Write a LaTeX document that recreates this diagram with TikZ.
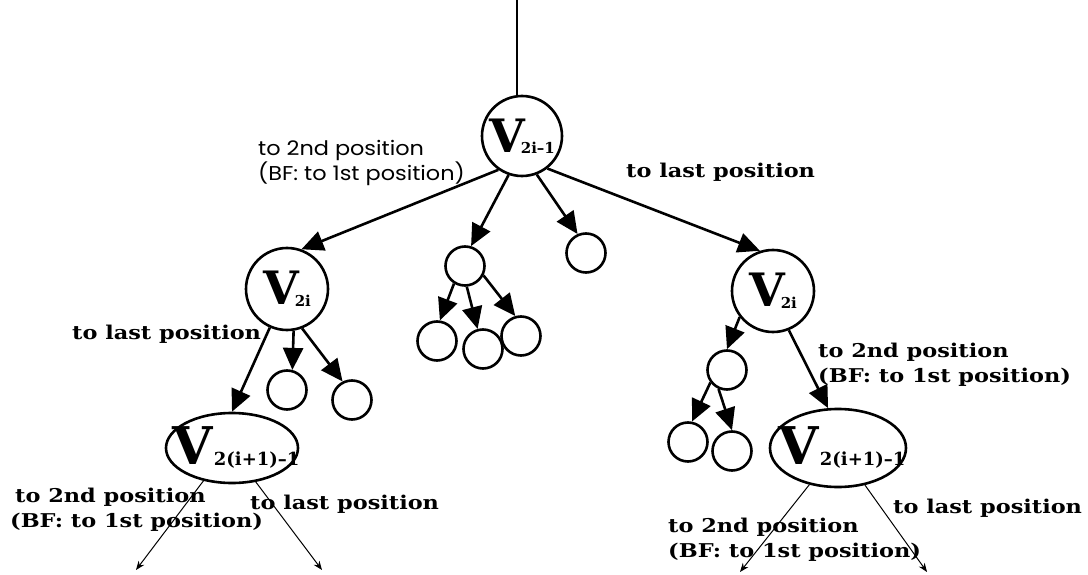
\documentclass[tikz,border=0pt]{standalone}
\usepackage{fontspec}
\setmainfont{DejaVu Serif}
\newfontfamily\lblfont{DejaVu Serif}[FakeStretch=1.18]
\newfontfamily\gothic{Poppins}[FakeStretch=1.12]
\usetikzlibrary{arrows.meta,shapes.geometric}

\begin{document}
\begin{tikzpicture}[x=1pt,y=-1pt,
  every node/.style={inner sep=0pt},
  vert/.style={draw, circle, line width=2.6pt},
  big/.style={vert, minimum size=82pt},
  small/.style={vert, minimum size=39pt},
  oval/.style={draw, ellipse, line width=2.6pt},
  edge/.style={line width=2.6pt, -{Triangle[length=22pt,width=20pt]}},
  thin/.style={line width=1pt, -{Stealth[length=9pt,width=7pt]}},
  lbl/.style={anchor=west, align=left, font=\lblfont\bfseries\fontsize{19}{25}\selectfont},
  glbl/.style={anchor=west, align=left, font=\gothic\fontsize{20}{22}\selectfont},
  vtxt/.style={font=\bfseries},
]
\useasboundingbox (0,0) rectangle (1088,575);

% vertices
\node[big, minimum size=80pt, label={[vtxt]center:{\fontsize{46}{46}\selectfont V}\kern-4pt\raisebox{-1pt}{\fontsize{15}{15}\selectfont 2i--1}}] (r) at (522,136) {};
\node[big, label={[vtxt]center:{\fontsize{46}{46}\selectfont V}\kern-4pt\raisebox{-2pt}{\fontsize{15}{15}\selectfont 2i}}] (l2i) at (287,289) {};
\node[big, label={[vtxt]center:{\fontsize{46}{46}\selectfont V}\kern-4pt\raisebox{-2pt}{\fontsize{15}{15}\selectfont 2i}}] (r2i) at (773,291) {};

\node[small] (m) at (465,266) {};
\node[small] (c1) at (437,341) {};
\node[small] (c2) at (483,349) {};
\node[small] (c3) at (521,336) {};
\node[small] (o) at (586,253) {};

\node[small] (a1) at (287,390) {};
\node[small] (a2) at (352,400) {};

\node[small] (p) at (727,370) {};
\node[small] (q1) at (688,442) {};
\node[small] (q2) at (732,451) {};

\node[oval, minimum width=132pt, minimum height=70pt] (le) at (232,448) {};
\node[vtxt] (letxt) at (236,447) {{\fontsize{52}{52}\selectfont V}\kern1pt\raisebox{-1pt}{\fontsize{18}{18}\selectfont 2(i+1)--1}};
\node[oval, minimum width=136pt, minimum height=78pt] (re) at (838,448) {};
\node[vtxt] (retxt) at (842,447) {{\fontsize{52}{52}\selectfont V}\kern1pt\raisebox{-1pt}{\fontsize{18}{18}\selectfont 2(i+1)--1}};

% incoming line at the top
\coordinate (top) at (517,0);
\draw[line width=2.2pt] (top) -- (top |- r.north);

% thick connectors
\draw[edge] (r.235) -- (l2i.70);
\draw[edge] (r.251) -- (m.73);
\draw[edge] (r.291) -- (o.114);
\draw[edge] (r.308) -- (r2i.108);

\draw[edge] (m.238) -- (c1.82);
\draw[edge] (m.275) -- (c2.105);
\draw[edge] (m.333) -- (c3.106);

\draw[edge] (l2i.246) -- (le.north);
\draw[edge] (l2i.279) -- (a1.75);
\draw[edge] (l2i.291) -- (a2.117);

\draw[edge] (r2i.218) -- (p.90);
\draw[edge] (r2i.292) -- (re.104);
\draw[edge] (p.217) -- (q1.79);
\draw[edge] (p.246) -- (q2.90);

% thin outgoing connectors
\coordinate (lo1) at (136,570);
\coordinate (lo2) at (322,570);
\coordinate (ro1) at (740,572);
\coordinate (ro2) at (927,572);
\draw[thin] (le.229) -- (lo1);
\draw[thin] (le.305) -- (lo2);
\draw[thin] (re.232) -- (ro1);
\draw[thin] (re.306) -- (ro2);

% edge labels
\node[glbl] (t1) at (258,163) {to 2nd position\\(BF: to 1st position)};
\node[lbl] (t2) at (626,172) {to last position};
\node[lbl] (t3) at (72,334) {to last position};
\node[lbl] (t4) at (818,365) {to 2nd position\\(BF: to 1st position)};
\node[lbl] (t5) at (10,510) {\hspace*{5pt}to 2nd position\\(BF: to 1st position)};
\node[lbl] (t6) at (250,504) {to last position};
\node[lbl] (t7) at (893,508) {to last position};
\node[lbl] (t8) at (668,540) {to 2nd position\\(BF: to 1st position)};
\end{tikzpicture}
\end{document}
